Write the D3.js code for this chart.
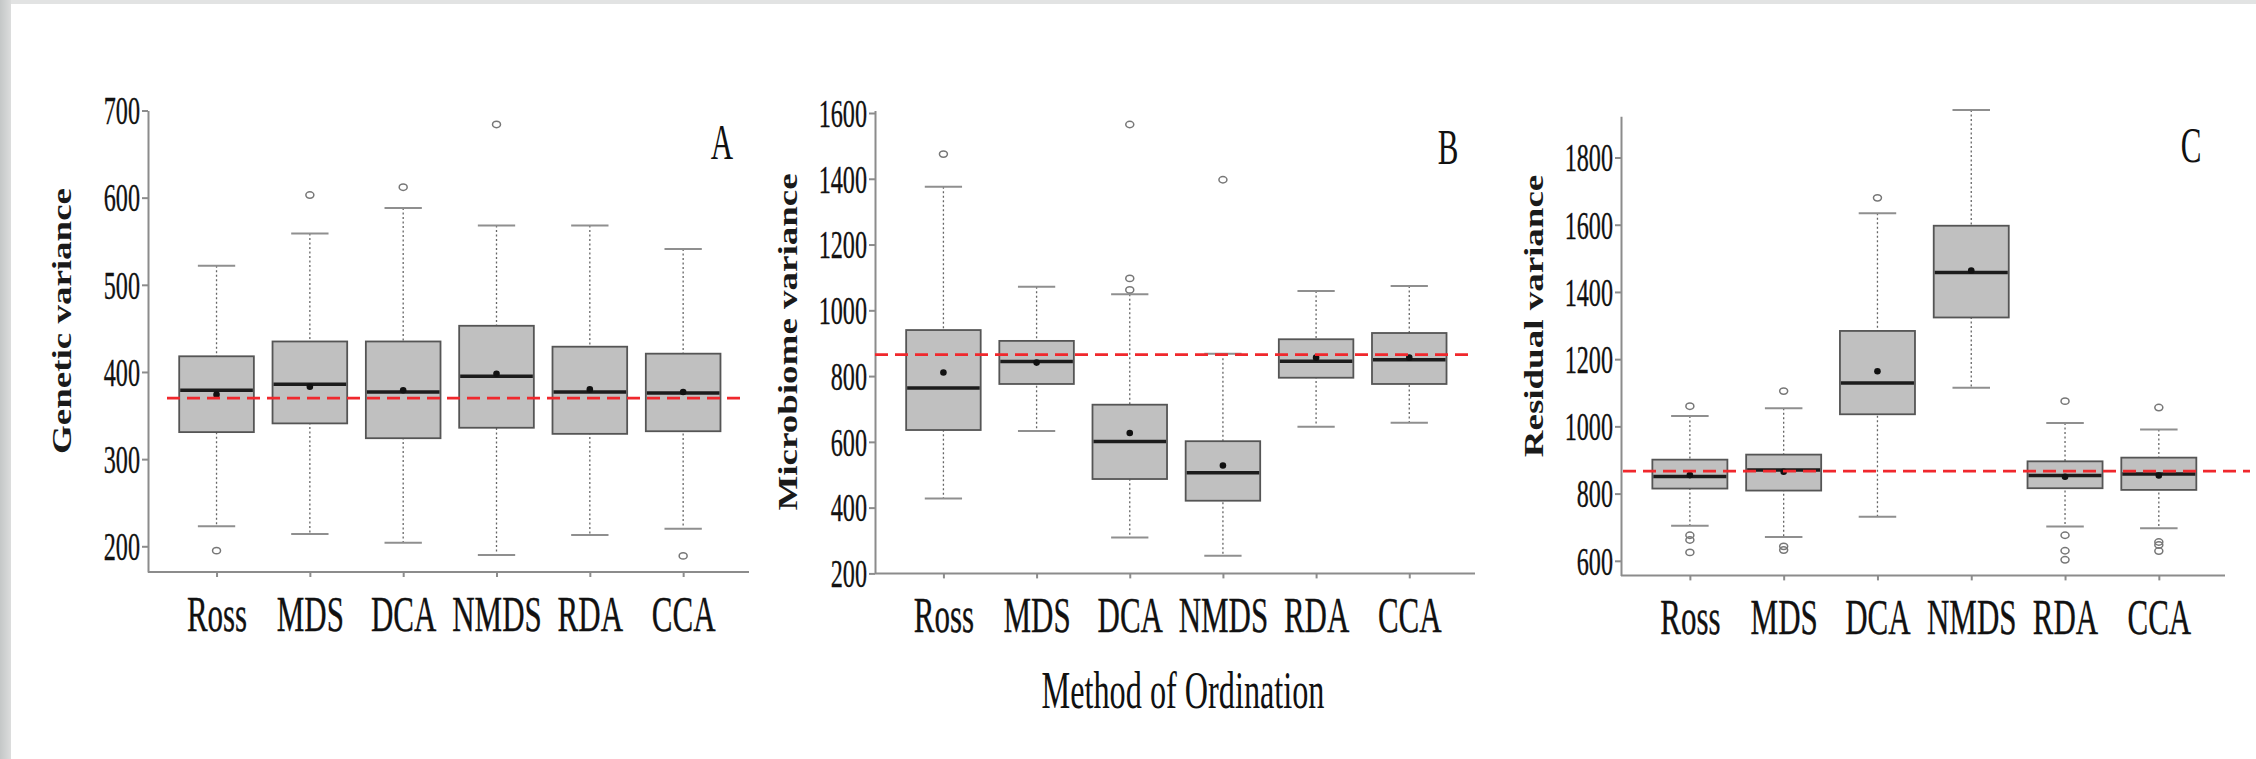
<!DOCTYPE html>
<html>
<head>
<meta charset="utf-8">
<style>
body { margin: 0; background: #fff; }
svg { display: block; }
.axis path, .axis line { stroke: #8c8c8c; stroke-width: 2; }
.axis text { font-family: "Liberation Serif", "Times New Roman", serif; fill: #111; stroke: #111; stroke-width: 0.35; }
</style>
<script src="https://cdn.jsdelivr.net/npm/d3@7/dist/d3.min.js"></script>
</head>
<body>
<svg id="fig" width="2256" height="759"></svg>
<script>
// categories shared by the three panels
var methods = ["Ross", "MDS", "DCA", "NMDS", "RDA", "CCA"];

// panel A - genetic variance
var genLower  = [223, 214, 204, 190, 213, 220];
var genQ1     = [331, 341, 324, 336, 329, 332];
var genMedian = [379, 386, 377, 395, 377, 376];
var genQ3     = [418, 435, 435, 453, 429, 421];
var genUpper  = [522, 559, 588, 568, 568, 541];
var genMean   = [374, 383, 379, 398, 380, 377];
var genOut    = [[0, 195], [1, 603], [2, 612], [3, 684], [5, 189]];
var genRef    = 370;
var genTicks  = [200, 300, 400, 500, 600, 700];

// panel B - microbiome variance
var micLower  = [428, 633, 309, 254, 646, 658];
var micQ1     = [636, 776, 487, 421, 795, 776];
var micMedian = [764, 844, 601, 506, 845, 850];
var micQ3     = [940, 907, 713, 602, 912, 931];
var micUpper  = [1376, 1072, 1049, 868, 1059, 1074];
var micMean   = [811, 841, 627, 528, 856, 856];
var micOut    = [[0, 1475], [2, 1565], [2, 1097], [2, 1062], [3, 1397]];
var micRef    = 865;
var micTicks  = [200, 400, 600, 800, 1000, 1200, 1400, 1600];

// panel C - residual variance
var resLower  = [704, 671, 731, 1115, 702, 697];
var resQ1     = [815, 809, 1036, 1324, 816, 811];
var resMedian = [851, 870, 1129, 1458, 854, 858];
var resQ3     = [901, 916, 1284, 1597, 896, 907];
var resUpper  = [1031, 1054, 1634, 1941, 1010, 991];
var resMean   = [855, 865, 1164, 1464, 850, 854];
var resOut    = [[0, 1060], [0, 676], [0, 662], [0, 625],
                 [1, 1105], [1, 643], [1, 632],
                 [2, 1680],
                 [4, 1075], [4, 676], [4, 630], [4, 603],
                 [5, 1056], [5, 656], [5, 647], [5, 629]];
var resRef    = 867;
var resTicks  = [600, 800, 1000, 1200, 1400, 1600, 1800];

var SX = 0.62;   // the original lettering is horizontally condensed
var serif = '"Liberation Serif", "Times New Roman", serif';

var svg = d3.select("#fig");
svg.append("rect").attr("width", 2256).attr("height", 759).attr("fill", "#fff");

// grey slide frame on the left and top edges
var defs = svg.append("defs");
var g1 = defs.append("linearGradient").attr("id", "edge").attr("x1", 0).attr("x2", 1).attr("y1", 0).attr("y2", 0);
g1.append("stop").attr("offset", 0).attr("stop-color", "#c4c7c7");
g1.append("stop").attr("offset", 1).attr("stop-color", "#dcdddd");
svg.append("rect").attr("x", 0).attr("y", 0).attr("width", 2256).attr("height", 4).attr("fill", "#e2e3e3");
svg.append("rect").attr("x", 0).attr("y", 0).attr("width", 11).attr("height", 759).attr("fill", "url(#edge)");

var panels = [
  {lower: genLower, q1: genQ1, median: genMedian, q3: genQ3, upper: genUpper, mean: genMean,
   out: genOut, ref: genRef, ticks: genTicks, title: "Genetic variance", tag: "A",
   left: 148, right: 749, bottom: 572, top: 110.5, lo: 170.5, hi: 700,
   refX: [167, 744], titleX: 62, titleY: 321, tagX: 722, tagY: 159},
  {lower: micLower, q1: micQ1, median: micMedian, q3: micQ3, upper: micUpper, mean: micMean,
   out: micOut, ref: micRef, ticks: micTicks, title: "Microbiome variance", tag: "B",
   left: 875, right: 1475, bottom: 573.4, top: 110.5, lo: 200, hi: 1607.6,
   refX: [875, 1470], titleX: 788, titleY: 342, tagX: 1448, tagY: 164},
  {lower: resLower, q1: resQ1, median: resMedian, q3: resQ3, upper: resUpper, mean: resMean,
   out: resOut, ref: resRef, ticks: resTicks, title: "Residual variance", tag: "C",
   left: 1621, right: 2225, bottom: 575.4, top: 116.3, lo: 556.6, hi: 1922.6,
   refX: [1623, 2250], titleX: 1534, titleY: 316, tagX: 2191, tagY: 162}
];

panels.forEach(function(p) {
  var x = d3.scalePoint().domain(methods).range([p.left, p.right]).padding(0.72).align(0.51);
  var y = d3.scaleLinear().domain([p.lo, p.hi]).range([p.bottom, p.top]);
  var bw = x.step() * 0.8;
  var g = svg.append("g");

  // y axis
  var ya = g.append("g").attr("class", "axis").attr("transform", "translate(" + p.left + ",0)")
    .call(d3.axisLeft(y).tickValues(p.ticks).tickSizeOuter(0).tickSizeInner(6).tickFormat(d3.format("d")));
  ya.selectAll(".tick line").attr("stroke-width", 1.5);
  ya.selectAll("text").attr("x", null).attr("dy", "0.34em")
    .attr("font-size", 39).attr("transform", "translate(-8,0) scale(" + SX + ",1)");

  // x axis
  var xa = g.append("g").attr("class", "axis").attr("transform", "translate(0," + p.bottom + ")")
    .call(d3.axisBottom(x).tickSizeOuter(0).tickSizeInner(5));
  xa.select(".domain").attr("d", "M" + p.left + ",0H" + p.right);
  xa.selectAll(".tick line").attr("stroke", "#bdbdbd").attr("stroke-width", 1.5);
  xa.selectAll("text").attr("y", 59).attr("dy", 0)
    .attr("font-size", 50).attr("transform", "scale(" + SX + ",1)");

  var idx = d3.range(methods.length);
  var cx = function(i) { return x(methods[i]); };

  // dotted whiskers
  g.selectAll(".wh").data(idx).enter().append("line")
    .attr("x1", cx).attr("x2", cx)
    .attr("y1", function(i) { return y(p.upper[i]); })
    .attr("y2", function(i) { return y(p.lower[i]); })
    .attr("stroke", "#666").attr("stroke-width", 1.3).attr("stroke-dasharray", "2,2.5");

  // whisker caps
  [p.upper, p.lower].forEach(function(arr) {
    g.selectAll(null).data(idx).enter().append("line")
      .attr("x1", function(i) { return cx(i) - bw / 4; })
      .attr("x2", function(i) { return cx(i) + bw / 4; })
      .attr("y1", function(i) { return y(arr[i]); })
      .attr("y2", function(i) { return y(arr[i]); })
      .attr("stroke", "#8f8f8f").attr("stroke-width", 2);
  });

  // boxes
  g.selectAll(".box").data(idx).enter().append("rect")
    .attr("x", function(i) { return cx(i) - bw / 2; })
    .attr("width", bw)
    .attr("y", function(i) { return y(p.q3[i]); })
    .attr("height", function(i) { return y(p.q1[i]) - y(p.q3[i]); })
    .attr("fill", "#c0c0c0").attr("stroke", "#555").attr("stroke-width", 1.8);

  // medians
  g.selectAll(".med").data(idx).enter().append("line")
    .attr("x1", function(i) { return cx(i) - bw / 2 + 1; })
    .attr("x2", function(i) { return cx(i) + bw / 2 - 1; })
    .attr("y1", function(i) { return y(p.median[i]); })
    .attr("y2", function(i) { return y(p.median[i]); })
    .attr("stroke", "#1c1c1c").attr("stroke-width", 3.5);

  // means
  g.selectAll(".mean").data(idx).enter().append("circle")
    .attr("cx", cx).attr("cy", function(i) { return y(p.mean[i]); })
    .attr("r", 3.3).attr("fill", "#111");

  // outliers
  g.selectAll(".out").data(p.out).enter().append("ellipse")
    .attr("cx", function(d) { return cx(d[0]); })
    .attr("cy", function(d) { return y(d[1]); })
    .attr("rx", 4).attr("ry", 3.2)
    .attr("fill", "none").attr("stroke", "#777").attr("stroke-width", 1.5);

  // reference line
  g.append("line")
    .attr("x1", p.refX[0]).attr("x2", p.refX[1])
    .attr("y1", y(p.ref)).attr("y2", y(p.ref))
    .attr("stroke", "#f0282d").attr("stroke-width", 2.8).attr("stroke-dasharray", "13,7");

  // y title
  g.append("text")
    .attr("transform", "translate(" + p.titleX + "," + p.titleY + ") rotate(-90) scale(1,0.72)")
    .attr("text-anchor", "middle").attr("dy", "0.35em")
    .attr("font-family", serif).attr("font-weight", "bold").attr("font-size", 37)
    .attr("fill", "#1a1a1a")
    .text(p.title);

  // panel tag
  g.append("text")
    .attr("transform", "translate(" + p.tagX + "," + p.tagY + ") scale(" + SX + ",1)")
    .attr("text-anchor", "middle")
    .attr("font-family", serif).attr("font-size", 50).attr("fill", "#111")
    .text(p.tag);
});

svg.append("text")
  .attr("transform", "translate(1183,708) scale(" + SX + ",1)")
  .attr("text-anchor", "middle")
  .attr("font-family", serif).attr("font-size", 52).attr("fill", "#111")
  .text("Method of Ordination");
</script>
</body>
</html>
